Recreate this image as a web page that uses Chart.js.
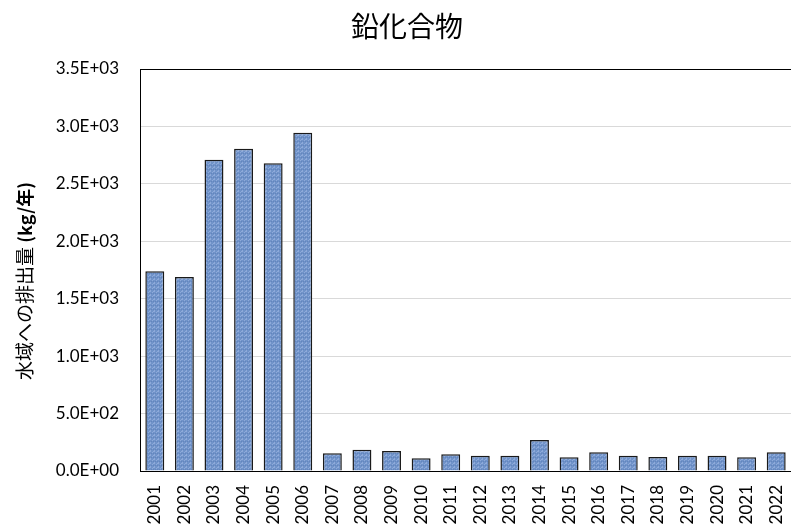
<!DOCTYPE html>
<html>
<head>
<meta charset="utf-8">
<script src="https://cdn.jsdelivr.net/npm/chart.js@4/dist/chart.umd.min.js"></script>
<style>
  html, body { margin: 0; padding: 0; background: #fff; }
  #wrap { width: 791px; height: 525px; }
</style>
</head>
<body>
<div id="wrap"><canvas id="chart"></canvas></div>
<script>
const years = ["2001","2002","2003","2004","2005","2006","2007","2008","2009","2010","2011",
  "2012","2013","2014","2015","2016","2017","2018","2019","2020","2021","2022"];
const emissions = [1740, 1690, 2710, 2805, 2680, 2945, 155, 185, 175, 110, 145,
  132, 132, 270, 120, 163, 132, 122, 132, 132, 120, 163];
const yTicks = [0, 500, 1000, 1500, 2000, 2500, 3000, 3500];
const titleText = "鉛化合物";
const yTitleMain = "水域への排出量 ";
const yTitleUnit = "(kg/年)";

const fontLatin = "Lato, 'Noto Sans', sans-serif";
const fontJa = "'Noto Sans CJK JP', 'Noto Sans', sans-serif";

// small textured fill, like the original's pattern
function barPattern() {
  const c = document.createElement("canvas");
  c.width = 4; c.height = 4;
  const g = c.getContext("2d");
  g.fillStyle = "#7093c9";
  g.fillRect(0, 0, 4, 4);
  g.fillStyle = "#8eaada";
  g.fillRect(0, 0, 1, 1); g.fillRect(2, 2, 1, 1); g.fillRect(1, 3, 2, 1);
  g.fillStyle = "#6385bd";
  g.fillRect(3, 1, 1, 1); g.fillRect(1, 1, 1, 1);
  return g.createPattern(c, "repeat");
}

function sci(v) {
  const [m, e] = Number(v).toExponential(1).split("e");
  const n = Math.abs(parseInt(e, 10));
  return m + "E" + (e[0] === "-" ? "-" : "+") + String(n).padStart(2, "0");
}

// plot frame + titles (the original's title sits off-centre and the unit is bold)
const extras = {
  id: "extras",
  afterDatasetsDraw(chart) {
    const { ctx, chartArea: a } = chart;
    ctx.save();
    ctx.strokeStyle = "#000";
    ctx.lineWidth = 1;
    ctx.strokeRect(a.left + 0.5, a.top + 0.5, a.right - a.left, a.bottom - a.top);
    ctx.restore();
  },
  afterDraw(chart) {
    const ctx = chart.ctx;
    ctx.save();
    ctx.fillStyle = "#000";
    ctx.textBaseline = "middle";
    ctx.textAlign = "center";
    ctx.font = "28px " + fontJa;
    ctx.fillText(titleText, 407, 26);

    const fMain = "19px " + fontJa;
    const fUnit = "bold 18px " + fontJa;
    ctx.font = fMain;
    const w1 = ctx.measureText(yTitleMain).width;
    ctx.font = fUnit;
    const w2 = ctx.measureText(yTitleUnit).width;
    ctx.translate(25, 281);
    ctx.rotate(-Math.PI / 2);
    ctx.textAlign = "left";
    ctx.font = fMain;
    ctx.fillText(yTitleMain, -(w1 + w2) / 2, 0);
    ctx.font = fUnit;
    ctx.fillText(yTitleUnit, -(w1 + w2) / 2 + w1, 0);
    ctx.restore();
  }
};

new Chart(document.getElementById("chart"), {
  type: "bar",
  data: {
    labels: years,
    datasets: [{
      data: emissions,
      backgroundColor: barPattern(),
      borderColor: "#1a1a1a",
      borderWidth: 1.5,
      barPercentage: 0.64,
      categoryPercentage: 1
    }]
  },
  options: {
    responsive: true,
    maintainAspectRatio: false,
    animation: false,
    layout: { padding: { top: 69, left: 0, right: 0, bottom: 0 } },
    plugins: {
      legend: { display: false },
      tooltip: { enabled: false },
      title: { display: false }
    },
    scales: {
      x: {
        grid: { display: false, drawTicks: false },
        border: { display: true, color: "#000", width: 1 },
        ticks: {
          color: "#000",
          font: { family: fontLatin, size: 17 },
          minRotation: 90,
          maxRotation: 90,
          autoSkip: false,
          padding: 14
        },
        afterFit(s) { s.height = 54; s.paddingLeft = 0; s.paddingRight = 0; }
      },
      y: {
        min: 0,
        max: 3500,
        afterBuildTicks(s) { s.ticks = yTicks.map(v => ({ value: v })); },
        grid: { color: "#d9d9d9", drawTicks: false, lineWidth: 1 },
        border: { display: true, color: "#000", width: 1 },
        ticks: {
          color: "#000",
          font: { family: fontLatin, size: 17 },
          padding: 21,
          callback: v => sci(v)
        },
        title: { display: false },
        afterFit(s) { s.width = 140; s.paddingTop = 0; s.paddingBottom = 0; }
      }
    }
  },
  plugins: [extras]
});
</script>
</body>
</html>
